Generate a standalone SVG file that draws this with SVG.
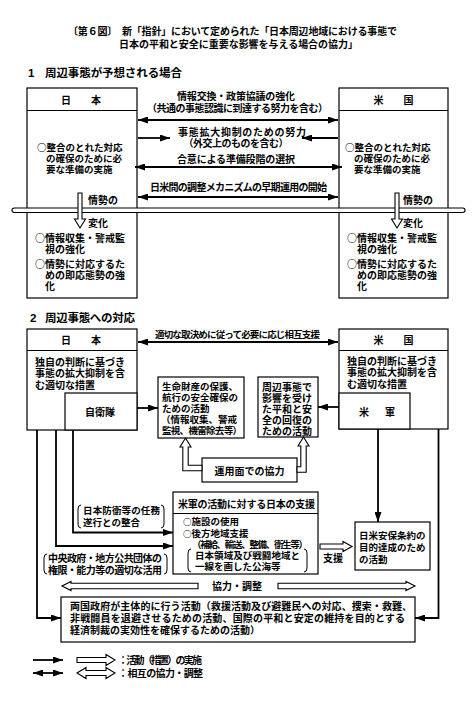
<svg xmlns="http://www.w3.org/2000/svg" width="475" height="701" viewBox="0 0 475 701">
<defs>
<style>
.t{font-family:"Liberation Sans","Noto Sans CJK JP",sans-serif;font-weight:700;font-size:10px;fill:#000}
.c{font-family:"Noto Sans CJK JP",sans-serif}
.c8{font-family:"Noto Sans CJK JP",sans-serif;font-size:8.5px}
.s9{font-size:9.5px}
.h{font-size:11.5px}
.box{fill:#fff;stroke:#000;stroke-width:1.2}
.dl{stroke:#000;stroke-width:1.2}
.ln{fill:none;stroke:#000;stroke-width:1.8}
.hol{fill:#fff;stroke:#000;stroke-width:1.1;stroke-linejoin:miter}
.br{fill:none;stroke:#000;stroke-width:1}
</style>
<marker id="ah" viewBox="0 0 10 7" refX="10" refY="3.5" markerWidth="10" markerHeight="7" markerUnits="userSpaceOnUse" orient="auto-start-reverse"><path d="M0,0 L10,3.5 L0,7 z" fill="#000"/></marker>
</defs>
<rect width="475" height="701" fill="#fff"/>

<g id="title">
<text class="t"><tspan x="68" y="34.5" textLength="329">〔第６図〕　新「指針」において定められた「日本周辺地域における事態で</tspan><tspan x="119" y="47.5" textLength="239">日本の平和と安全に重要な影響を与える場合の協力」</tspan></text>
</g>

<g id="heading1">
<text class="t h" x="28" y="77">1</text>
<text class="t h" x="45" y="77" textLength="137">周辺事態が予想される場合</text>
</g>

<g id="s1-japan">
<rect class="box" x="27" y="88" width="110" height="210"/>
<line class="dl" x1="27" y1="110.5" x2="137" y2="110.5"/>
<text class="t" x="81" y="103.5" text-anchor="middle">日　　本</text>
<text class="t s9"><tspan x="37" y="150.5"><tspan class="c">○</tspan>整合のとれた対応</tspan><tspan x="46" y="161.5">の確保のために必</tspan><tspan x="46" y="172.5">要な準備の実施</tspan></text>
<text class="t"><tspan x="35" y="242"><tspan class="c">○</tspan>情報収集・警戒監</tspan><tspan x="45" y="253">視の強化</tspan><tspan x="35" y="267.5"><tspan class="c">○</tspan>情勢に対応するた</tspan><tspan x="45" y="278.5">めの即応態勢の強</tspan><tspan x="45" y="290">化</tspan></text>
</g>

<g id="s1-usa">
<rect class="box" x="339" y="88" width="109" height="210"/>
<line class="dl" x1="339" y1="110.5" x2="448" y2="110.5"/>
<text class="t" x="393.5" y="103.5" text-anchor="middle">米　　国</text>
<text class="t s9"><tspan x="345" y="150.5"><tspan class="c">○</tspan>整合のとれた対応</tspan><tspan x="354" y="161.5">の確保のために必</tspan><tspan x="354" y="172.5">要な準備の実施</tspan></text>
<text class="t"><tspan x="347" y="242"><tspan class="c">○</tspan>情報収集・警戒監</tspan><tspan x="357" y="253">視の強化</tspan><tspan x="347" y="267.5"><tspan class="c">○</tspan>情勢に対応するた</tspan><tspan x="357" y="278.5">めの即応態勢の強</tspan><tspan x="357" y="290">化</tspan></text>
</g>

<g id="s1-situation-bar">
<rect x="12" y="208" width="453" height="4.5" rx="2.2" fill="#fff" stroke="#000" stroke-width="1.1"/>
</g>

<g id="connectors-1">
<text class="t" text-anchor="middle"><tspan x="236" y="99.5" textLength="118">情報交換・政策協議の強化</tspan><tspan x="237.5" y="111.5" textLength="181">（共通の事態認識に到達する努力を含む）</tspan></text>
<line class="ln" x1="138" y1="120" x2="338" y2="120" marker-start="url(#ah)" marker-end="url(#ah)"/>
<text class="t" text-anchor="middle"><tspan x="242" y="136" textLength="128">事態拡大抑制のための努力</tspan><tspan x="236" y="147" textLength="105">（外交上のものを含む）</tspan></text>
<line class="ln" x1="138" y1="138" x2="170" y2="138" marker-end="url(#ah)"/>
<line class="ln" x1="338" y1="138" x2="302" y2="138" marker-end="url(#ah)"/>
<text class="t" x="236" y="162.5" text-anchor="middle" textLength="118">合意による準備段階の選択</text>
<line class="ln" x1="135" y1="167" x2="342" y2="167" marker-start="url(#ah)" marker-end="url(#ah)"/>
<text class="t" x="238.5" y="190.5" text-anchor="middle" textLength="177">日米間の調整メカニズムの早期運用の開始</text>
<line class="ln" x1="138" y1="197" x2="338" y2="197" marker-start="url(#ah)" marker-end="url(#ah)"/>
<polygon class="hol" points="78,193 82,193 82,219 85.5,219 80,228 74.5,219 78,219"/>
<text class="t"><tspan x="88" y="203.5">情勢の</tspan><tspan x="88" y="226.5">変化</tspan></text>
<polygon class="hol" points="395,193 399,193 399,219 402.5,219 397,228 391.5,219 395,219"/>
<text class="t"><tspan x="403" y="203.5">情勢の</tspan><tspan x="403" y="226.5">変化</tspan></text>
</g>

<g id="heading2">
<text class="t h" x="30" y="322">2</text>
<text class="t h" x="45" y="322" textLength="90">周辺事態への対応</text>
</g>

<g id="s2-japan">
<rect class="box" x="27" y="329" width="110" height="101"/>
<line class="dl" x1="27" y1="350.5" x2="137" y2="350.5"/>
<text class="t" x="81" y="343.5" text-anchor="middle">日　　本</text>
<text class="t"><tspan x="35" y="365.5">独自の判断に基づき</tspan><tspan x="35" y="377">事態の拡大抑制を含</tspan><tspan x="35" y="388.5">む適切な措置</tspan></text>
</g>
<g id="s2-sdf">
<rect class="box" x="65" y="393" width="72" height="37"/>
<text class="t" x="100" y="415.5" text-anchor="middle">自衛隊</text>
</g>

<g id="s2-usa">
<rect class="box" x="339" y="329" width="109" height="100"/>
<line class="dl" x1="339" y1="350.5" x2="448" y2="350.5"/>
<text class="t" x="393.5" y="343.5" text-anchor="middle">米　　国</text>
<text class="t"><tspan x="347" y="364.5">独自の判断に基づき</tspan><tspan x="347" y="376">事態の拡大抑制を含</tspan><tspan x="347" y="387.5">む適切な措置</tspan></text>
</g>
<g id="s2-usforces">
<rect class="box" x="339" y="393" width="71" height="36"/>
<text class="t"><tspan x="359" y="415.5">米</tspan><tspan x="385" y="415.5">軍</tspan></text>
</g>

<g id="s2-protection">
<rect class="box" x="158" y="377" width="86" height="61"/>
<text class="t s9"><tspan x="162" y="389.5">生命財産の保護、</tspan><tspan x="162" y="400.5">航行の安全確保の</tspan><tspan x="162" y="411.5">ための活動</tspan><tspan x="161" y="423" textLength="76">（情報収集、警戒</tspan><tspan x="162" y="434" textLength="80">監視、機雷除去等）</tspan></text>
</g>

<g id="s2-recovery">
<rect class="box" x="258" y="377" width="60" height="60"/>
<text class="t"><tspan x="262" y="390.5">周辺事態で</tspan><tspan x="262" y="401.5">影響を受け</tspan><tspan x="262" y="412.5">た平和と安</tspan><tspan x="262" y="423.5">全の回復の</tspan><tspan x="262" y="434.5">ための活動</tspan></text>
</g>

<g id="s2-operational">
<rect class="box" x="202" y="458" width="95" height="24"/>
<text class="t" x="249.5" y="474.5" text-anchor="middle">運用面での協力</text>
</g>

<g id="s2-support">
<rect class="box" x="173" y="492" width="145" height="82"/>
<line class="dl" x1="173" y1="513.5" x2="318" y2="513.5"/>
<text class="t" x="246.5" y="507.5" text-anchor="middle" textLength="137">米軍の活動に対する日本の支援</text>
<text class="t s9"><tspan x="183" y="524.8"><tspan class="c8">○</tspan>施設の使用</tspan><tspan x="183" y="537"><tspan class="c8">○</tspan>後方地域支援</tspan><tspan x="192" y="548" textLength="116">（補給、輸送、整備、衛生等）</tspan><tspan x="195" y="558.8" textLength="105">日本領域及び戦闘地域と</tspan><tspan x="195" y="569.6">一線を画した公海等</tspan></text>
<path class="br" d="M191,549 Q188,549 188,553 L188,568 Q188,572 191,572"/>
<path class="br" d="M304,549 Q307,549 307,553 L307,568 Q307,572 304,572"/>
</g>

<g id="s2-treaty">
<rect class="box" x="355" y="522" width="75" height="48"/>
<text class="t s9"><tspan x="359" y="538.5">日米安保条約の</tspan><tspan x="359" y="550.5">目的達成のため</tspan><tspan x="359" y="562.5">の活動</tspan></text>
</g>

<g id="s2-bilateral">
<rect class="box" x="61" y="597" width="354" height="45"/>
<text class="t"><tspan x="70" y="610" textLength="342">両国政府が主体的に行う活動（救援活動及び避難民への対応、捜索・救難、</tspan><tspan x="70" y="621.5" textLength="335">非戦闘員を退避させるための活動、国際の平和と安定の維持を目的とする</tspan><tspan x="70" y="633.5">経済制裁の実効性を確保するための活動）</tspan></text>
</g>

<g id="connectors-2">
<text class="t s9" x="237.5" y="338" text-anchor="middle" textLength="165">適切な取決めに従って必要に応じ相互支援</text>
<line class="ln" x1="138" y1="342" x2="338" y2="342" marker-start="url(#ah)" marker-end="url(#ah)"/>
<line class="ln" x1="137" y1="408" x2="158" y2="408" marker-end="url(#ah)"/>
<line class="ln" x1="339" y1="407" x2="318" y2="407" marker-end="url(#ah)"/>
<polygon class="hol" points="185.5,438 191,447 188.2,447 188.2,465.3 202,465.3 202,470.7 182.8,470.7 182.8,447 180,447"/>
<polygon class="hol" points="303.5,437 309,446 306.2,446 306.2,472.2 297,472.2 297,466.8 300.8,466.8 300.8,446 298,446"/>
<line class="ln" x1="378" y1="429" x2="378" y2="522" marker-end="url(#ah)"/>
<polyline class="ln" points="73,430 73,532.5 173,532.5" marker-end="url(#ah)"/>
<polyline class="ln" points="56,430 56,546 173,546" marker-end="url(#ah)"/>
<polyline class="ln" points="37,430 37,618 61,618" marker-end="url(#ah)"/>
<polyline class="ln" points="438.5,429 438.5,618 415,618" marker-end="url(#ah)"/>
<text class="t s9"><tspan x="83" y="514" textLength="77">日本防衛等の任務</tspan><tspan x="83" y="525.5">遂行との整合</tspan></text>
<path class="br" d="M81,505 Q78,505 78,509 L78,524 Q78,528 81,528"/>
<path class="br" d="M161,505 Q164,505 164,509 L164,524 Q164,528 161,528"/>
<text class="t"><tspan x="48" y="561.5" textLength="114">中央政府・地方公共団体の</tspan><tspan x="48" y="573.5" textLength="114">権限・能力等の適切な活用</tspan></text>
<path class="br" d="M47,554 Q44,554 44,558 L44,570 Q44,574 47,574"/>
<path class="br" d="M164,554 Q167,554 167,558 L167,570 Q167,574 164,574"/>
<polygon class="hol" points="320,544 343,544 343,541.5 352,546.5 343,551.5 343,549 320,549"/>
<text class="t" x="333" y="561.5" text-anchor="middle">支援</text>
<polygon class="hol" points="62,586 71,581.5 71,583.3 198,583.3 198,588.7 71,588.7 71,590.5"/>
<polygon class="hol" points="278,583.3 406,583.3 406,581.5 415,586 406,590.5 406,588.7 278,588.7"/>
<text class="t" x="237" y="590" text-anchor="middle">協力・調整</text>
</g>

<g id="legend">
<line class="ln" x1="33" y1="660" x2="63" y2="660" marker-end="url(#ah)"/>
<polygon class="hol" points="77,657.5 106,657.5 106,654.5 115,660 106,665.5 106,662.5 77,662.5"/>
<text class="t" x="118" y="664" textLength="84">：活動（措置）の実施</text>
<line class="ln" x1="33" y1="673" x2="63" y2="673" marker-start="url(#ah)" marker-end="url(#ah)"/>
<polygon class="hol" points="77,673 86,667.5 86,670.5 106,670.5 106,667.5 115,673 106,678.5 106,675.5 86,675.5 86,678.5"/>
<text class="t" x="118" y="677" textLength="85">：相互の協力・調整</text>
</g>
</svg>
